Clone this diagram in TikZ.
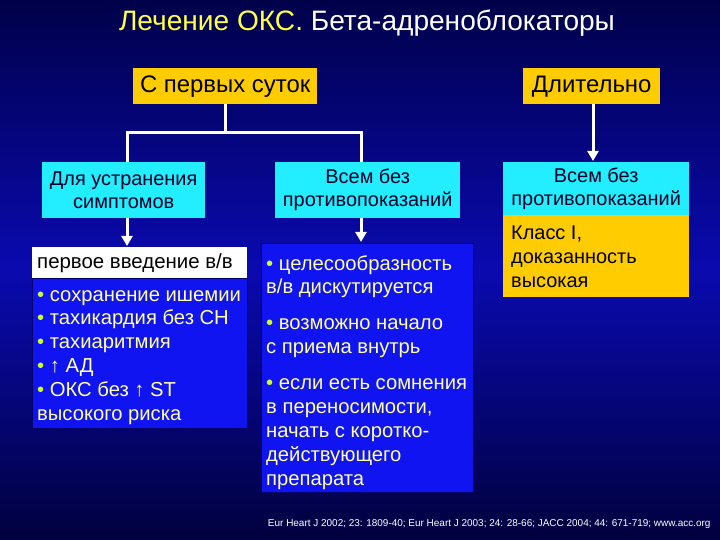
\documentclass[tikz,border=0pt]{standalone}
\usepackage{fontspec}
\setmainfont{Liberation Sans}
\usetikzlibrary{arrows.meta}
\definecolor{bgtop}{HTML}{00004A}
\definecolor{bgmid}{HTML}{0A0AB0}
\definecolor{bgbot}{HTML}{00003E}
\definecolor{gold}{HTML}{FFCC00}
\definecolor{aqua}{HTML}{22EEFF}
\definecolor{boxblue}{HTML}{0F14F0}
\definecolor{ltyel}{HTML}{FFFFAA}
\definecolor{bulyel}{HTML}{CCFF33}
\definecolor{titleyel}{HTML}{FFFF44}
\begin{document}
\begin{tikzpicture}[x=1bp,y=-1bp,
  goldbox/.style={fill=gold, inner sep=0pt, text=black, anchor=north west,
    font=\fontsize{24}{27}\selectfont},
  aquabox/.style={fill=aqua, inner sep=0pt, text=black!85!blue, anchor=north west,
    align=center, font=\fontsize{20}{23}\selectfont},
  bluebox/.style={fill=boxblue, draw=black!60!blue, line width=0.8bp, inner sep=0pt, anchor=north west},
  boxtext/.style={anchor=north west, inner sep=0pt, align=left, text=ltyel,
    font=\fontsize{20.3}{24}\selectfont},
  conn/.style={draw=white, line width=3bp},
  arr/.style={conn, -{Triangle[length=10bp,width=11bp]}, shorten >=1bp}]
\shade[top color=bgtop, bottom color=bgbot, middle color=bgmid] (0,0) rectangle (720,540);
\useasboundingbox (0,0) rectangle (720,540);
\newcommand{\bul}{\textcolor{bulyel}{•}}
% title
\node[font=\fontsize{28.2}{31}\selectfont, text=white] (title) at (367,23)
  {\textcolor{titleyel}{Лечение ОКС.} Бета-адреноблокаторы};
% top boxes
\node[goldbox, minimum width=184bp, minimum height=36bp] (A) at (133,68) {С первых суток};
\node[goldbox, minimum width=137bp, minimum height=36bp] (B) at (523,68) {Длительно};
% cyan boxes
\node[aquabox, minimum width=163bp, minimum height=56bp] (C) at (42,162) {Для устранения\\симптомов};
\node[aquabox, minimum width=185bp, minimum height=56bp] (D) at (275,162) {Всем без\\противопоказаний};
\node[aquabox, minimum width=186bp, minimum height=53bp] (E) at (503,162) {Всем без\\противопоказаний};
\node[fill=gold, inner sep=0pt, anchor=north west, minimum width=186bp, minimum height=82bp] (F) at (503,215) {};
\node[anchor=north west, inner sep=0pt, align=left, text=black, font=\fontsize{20}{24}\selectfont]
  (Ft) at (511,226) {Класс I,\\доказанность\\высокая};
% left column
\node[fill=white, inner sep=0pt, anchor=north west, minimum width=215bp, minimum height=31bp] (W) at (32,247) {};
\node[anchor=west, inner sep=0pt, text=black, font=\fontsize{20.5}{24}\selectfont] (Wt) at (37,263) {первое введение в/в};
\node[bluebox, minimum width=215bp, minimum height=150bp] (L) at (32,278) {};
\node[boxtext] (Lt) at (37,290) {\bul{} сохранение ишемии\\\bul{} тахикардия без СН\\\bul{} тахиаритмия\\\bul{} ↑ АД\\\bul{} ОКС без ↑ ST\\высокого риска};
% middle column
\node[bluebox, minimum width=212bp, minimum height=249bp] (M) at (261,243) {};
\node[boxtext, text=ltyel] (Mt) at (266,255) {\bul{} целесообразность\\в/в дискутируется\\[12bp]\bul{} возможно начало\\с приема внутрь\\[12bp]\bul{} если есть сомнения\\в переносимости,\\начать с коротко-\\действующего\\препарата};
% connectors
\coordinate (jl) at (127,133);
\coordinate (jr) at (361,133);
\draw[conn] (A.south) -- (A.south |- jl);
\draw[conn, line cap=rect] (jl) -- (jr);
\draw[conn] (jl) -- (jl |- C.north);
\draw[conn] (jr) -- (jr |- D.north);
\draw[arr] (jl |- C.south) -- (jl |- W.north);
\draw[arr] (jr |- D.south) -- (jr |- M.north);
\draw[arr] (593,104) -- (593,162);
% footer
\node[text=white, font=\fontsize{10}{12}\selectfont, anchor=east] (foot) at (714,524)
  {Eur Heart J 2002; 23: 1809-40; Eur Heart J 2003; 24: 28-66; JACC 2004; 44: 671-719; www.acc.org};
\end{tikzpicture}
\end{document}
